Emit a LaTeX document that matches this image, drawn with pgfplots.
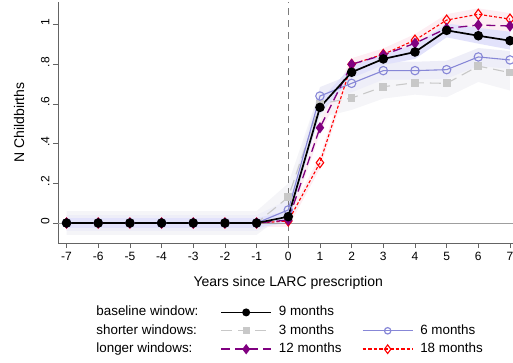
\documentclass[border=0pt]{standalone}
\usepackage{fontspec}
\setmainfont{Liberation Sans}
\usepackage{pgfplots}
\pgfplotsset{compat=1.18}

\definecolor{lav}{RGB}{226,226,251}
\definecolor{bandgray}{RGB}{245,245,248}
\definecolor{band6}{RGB}{238,238,248}
\definecolor{bandpink}{RGB}{253,238,243}
\definecolor{c3}{RGB}{200,200,200}
\definecolor{c6}{RGB}{135,135,215}
\definecolor{c12}{RGB}{128,0,128}
\definecolor{c18}{RGB}{255,0,0}
\definecolor{axgray}{RGB}{100,100,100}

\begin{document}
\begin{tikzpicture}
\useasboundingbox (-58pt,-119pt) rectangle (455pt,243pt);
\begin{axis}[
    scale only axis,
    width=455pt, height=241pt,
    xmin=-7.27, xmax=7.095,
    ymin=-0.1008, ymax=1.114,
    axis x line*=bottom, axis y line*=left,
    axis line style={axgray,-,line width=0.7pt},
    tick align=outside, major tick length=5pt,
    tick style={axgray,line width=0.7pt},
    xtick={-7,-6,-5,-4,-3,-2,-1,0,1,2,3,4,5,6,7},
    xticklabels={-7,-6,-5,-4,-3,-2,-1,0,1,2,3,4,5,6,7},
    ytick={0,0.2,0.4,0.6,0.8,1},
    yticklabels={0,.2,.4,.6,.8,1},
    ticklabel style={font=\fontsize{12}{14}\selectfont},
    xticklabel style={yshift=-1pt},
    yticklabel style={rotate=90,anchor=south,xshift=2pt},
    xlabel={Years since LARC prescription},
    ylabel={N Childbirths},
    xlabel style={font=\fontsize{14}{16}\selectfont, at={(axis description cs:0.506,-0.165)}, anchor=center},
    ylabel style={font=\fontsize{14}{16}\selectfont, at={(axis description cs:-0.0857,0.5)}, anchor=center, rotate=0},
    legend columns=3,
    legend cell align=left,
    legend style={draw=none, fill=none, at={(axis description cs:0.073,-0.256)}, anchor=north west,
        inner sep=0pt, column sep=0pt, row sep=3.4pt, font=\fontsize{13.4}{15}\selectfont,
        nodes={inner xsep=5pt, inner ysep=1pt, text height=10pt, text depth=3pt}},
    legend image code/.code={%
        \draw[#1, mark=none] (0pt,0pt) -- (50pt,0pt);
        \draw[#1, only marks] plot coordinates {(25pt,0pt)};
        \path (52pt,0pt);},
]

% confidence bands
\addplot[fill=bandgray, draw=none, forget plot] coordinates {
(-7,.06)(-6,.06)(-5,.06)(-4,.06)(-3,.06)(-2,.06)(-1,.06)(0,.20)(1,.67)(2,.69)(3,.747)(4,.767)(5,.774)(6,.871)(7,.848)
(7,.668)(6,.711)(5,.634)(4,.647)(3,.627)(2,.57)(1,.53)(0,.06)(-1,-.06)(-2,-.06)(-3,-.06)(-4,-.06)(-5,-.06)(-6,-.06)(-7,-.06)};
\addplot[fill=band6, draw=none, forget plot] coordinates {
(-7,.04)(-6,.04)(-5,.04)(-4,.04)(-3,.04)(-2,.04)(-1,.04)(0,.116)(1,.685)(2,.749)(3,.813)(4,.813)(5,.818)(6,.882)(7,.867)
(7,.777)(6,.792)(5,.728)(4,.723)(3,.723)(2,.659)(1,.595)(0,.016)(-1,-.04)(-2,-.04)(-3,-.04)(-4,-.04)(-5,-.04)(-6,-.04)(-7,-.04)};
\addplot[fill=bandpink, draw=none, forget plot] coordinates {
(-7,.02)(-6,.02)(-5,.02)(-4,.02)(-3,.02)(-2,.02)(-1,.02)(0,.04)(1,.334)(2,.83)(3,.88)(4,.952)(5,1.053)(6,1.082)(7,1.058)
(7,.998)(6,1.022)(5,.993)(4,.892)(3,.82)(2,.77)(1,.274)(0,-.02)(-1,-.02)(-2,-.02)(-3,-.02)(-4,-.02)(-5,-.02)(-6,-.02)(-7,-.02)};
\addplot[fill=bandpink, draw=none, forget plot] coordinates {
(-7,.02)(-6,.02)(-5,.02)(-4,.02)(-3,.02)(-2,.02)(-1,.02)(0,.045)(1,.51)(2,.83)(3,.877)(4,.936)(5,1.011)(6,1.028)(7,1.023)
(7,.963)(6,.968)(5,.951)(4,.876)(3,.817)(2,.77)(1,.45)(0,-.015)(-1,-.02)(-2,-.02)(-3,-.02)(-4,-.02)(-5,-.02)(-6,-.02)(-7,-.02)};
\addplot[fill=lav, draw=none, forget plot] coordinates {
(-7,.025)(-6,.025)(-5,.025)(-4,.025)(-3,.025)(-2,.025)(-1,.025)(0,.062)(1,.618)(2,.79)(3,.857)(4,.897)(5,1.006)(6,.984)(7,.964)
(7,.874)(6,.904)(5,.936)(4,.827)(3,.797)(2,.73)(1,.548)(0,.002)(-1,-.025)(-2,-.025)(-3,-.025)(-4,-.025)(-5,-.025)(-6,-.025)(-7,-.025)};

% reference lines
\addplot[forget plot, gray!75, line width=0.9pt] coordinates {(-7.27,0)(7.095,0)};
\addplot[forget plot, axgray!85, line width=0.8pt, dash pattern=on 7pt off 5pt] coordinates {(0,-0.1008)(0,1.114)};

% 3 months
\addplot[forget plot, c3, line width=1.1pt, dash pattern=on 11pt off 6pt, mark=square*, mark size=3.3pt, mark options={solid}] coordinates {
(-7,0)(-6,0)(-5,0)(-4,0)(-3,0)(-2,0)(-1,0)(0,.13)(1,.60)(2,.63)(3,.687)(4,.707)(5,.704)(6,.791)(7,.758)};
% 6 months
\addplot[forget plot, c6, line width=1.1pt, mark=o, mark size=4.2pt, mark options={solid, fill=none}] coordinates {
(-7,0)(-6,0)(-5,0)(-4,0)(-3,0)(-2,0)(-1,0)(0,.066)(1,.64)(2,.704)(3,.768)(4,.768)(5,.773)(6,.837)(7,.822)};
% 18 months
\addplot[forget plot, c18, line width=1.1pt, dash pattern=on 3pt off 2pt, mark=diamond, mark size=5pt, mark options={solid, line width=1.1pt}] coordinates {
(-7,0)(-6,0)(-5,0)(-4,0)(-3,0)(-2,0)(-1,0)(0,.01)(1,.304)(2,.80)(3,.85)(4,.922)(5,1.023)(6,1.052)(7,1.028)};
% 12 months
\addplot[forget plot, c12, line width=1.3pt, dash pattern=on 9pt off 5pt, mark=diamond*, mark size=4.6pt, mark options={solid}] coordinates {
(-7,0)(-6,0)(-5,0)(-4,0)(-3,0)(-2,0)(-1,0)(0,.015)(1,.48)(2,.80)(3,.847)(4,.906)(5,.981)(6,.998)(7,.993)};
% 9 months (baseline)
\addplot[forget plot, black, line width=1.7pt, mark=*, mark size=3.9pt] coordinates {
(-7,0)(-6,0)(-5,0)(-4,0)(-3,0)(-2,0)(-1,0)(0,.032)(1,.583)(2,.76)(3,.827)(4,.862)(5,.971)(6,.944)(7,.919)};

% legend
\addlegendimage{empty legend}\addlegendentry{\makebox[119pt][l]{baseline window:}}
\addlegendimage{black, line width=1.5pt, mark=*, mark size=3.2pt}\addlegendentry{\makebox[78pt][l]{9 months}}
\addlegendimage{empty legend}\addlegendentry{}
\addlegendimage{empty legend}\addlegendentry{shorter windows:}
\addlegendimage{c3, line width=1.2pt, dash pattern=on 11pt off 6pt, mark=square*, mark size=3pt, mark options={solid}}\addlegendentry{3 months}
\addlegendimage{c6, line width=1.2pt, mark=o, mark size=3.2pt, mark options={solid}}\addlegendentry{6 months}
\addlegendimage{empty legend}\addlegendentry{longer windows:}
\addlegendimage{c12, line width=1.5pt, dash pattern=on 9pt off 5pt, mark=diamond*, mark size=4pt, mark options={solid}}\addlegendentry{12 months}
\addlegendimage{legend image code/.code={%
    \draw[draw=c18, line width=1.5pt, dash pattern=on 3.5pt off 2pt] (0pt,0pt) -- (50pt,0pt);
    \draw[draw=c18, fill=white, line width=1.1pt, solid] plot[mark=diamond, mark size=4.3pt, only marks] coordinates {(25pt,0pt)};
    \path (52pt,0pt);}}\addlegendentry{18 months}
\end{axis}
\end{tikzpicture}
\end{document}
